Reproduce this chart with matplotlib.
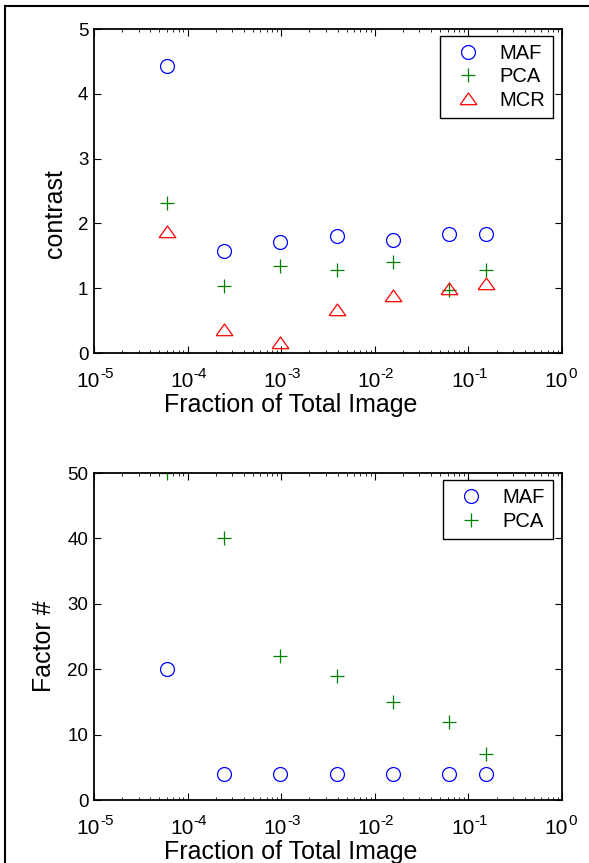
import matplotlib
matplotlib.use("Agg")
import matplotlib.pyplot as plt
import matplotlib.ticker as mticker
import matplotlib.transforms as mtransforms
from matplotlib.lines import Line2D

plt.rcParams['font.family'] = ['Liberation Sans', 'DejaVu Sans']

# fraction of total image (x) shared by both panels
frac = [6.0e-5, 2.44e-4, 9.77e-4, 3.9e-3, 1.56e-2, 6.25e-2, 0.153]
decades = [-5, -4, -3, -2, -1, 0]

# top panel: contrast
maf_contrast = [4.43, 1.58, 1.71, 1.80, 1.75, 1.83, 1.83]
pca_contrast = [2.32, 1.03, 1.34, 1.28, 1.41, 0.97, 1.28]
mcr_contrast = [1.86, 0.36, 0.16, 0.67, 0.88, 0.98, 1.06]

# bottom panel: factor number
maf_factor = [20, 4, 4, 4, 4, 4, 4]
pca_factor = [50, 40, 22, 19, 15, 12, 7]

blue = '#0000ff'
green = '#008000'
red = '#ff0000'
tri = [(-1, -0.62), (1, -0.62), (0, 0.78), (-1, -0.62)]

fig = plt.figure(figsize=(5.89, 8.63), dpi=100)
W, H = 589.0, 863.0

def axes_px(l, t, r, b):
    return fig.add_axes([l / W, 1 - b / H, (r - l) / W, (b - t) / H])

ax1 = axes_px(94, 29, 562, 353)
ax2 = axes_px(94, 473, 562, 800)

ax1.plot(frac, maf_contrast, 'o', ls='none', mfc='none', mec=blue, ms=10, mew=0.9, label='MAF')
ax1.plot(frac, pca_contrast, '+', ls='none', color=green, ms=10, mew=0.9, label='PCA')
ax1.plot(frac, mcr_contrast, ls='none', marker=tri, mfc='none', mec=red, ms=12, mew=0.9, label='MCR')

ax2.plot(frac, maf_factor, 'o', ls='none', mfc='none', mec=blue, ms=10, mew=0.9, label='MAF')
ax2.plot(frac, pca_factor, '+', ls='none', color=green, ms=10, mew=0.9, label='PCA')

ax1.set_ylim(0, 5)
ax1.set_yticks([0, 1, 2, 3, 4, 5])
ax2.set_ylim(0, 50)
ax2.set_yticks([0, 10, 20, 30, 40, 50])

for ax in (ax1, ax2):
    ax.set_xscale('log')
    ax.set_xlim(1e-5, 1)
    ax.set_xticks([10.0 ** e for e in decades])
    ax.xaxis.set_minor_locator(mticker.LogLocator(base=10, subs=range(2, 10)))
    ax.xaxis.set_major_formatter(mticker.NullFormatter())
    ax.xaxis.set_minor_formatter(mticker.NullFormatter())
    ax.tick_params(which='both', direction='in', top=True, right=True, labelsize=13.5)
    ax.tick_params(which='major', length=5, width=0.8)
    ax.tick_params(which='minor', length=2.5, width=0.6)
    ax.tick_params(axis='y', pad=4)
    for s in ax.spines.values():
        s.set_linewidth(1.3)

    # MATLAB-style 10^n labels: base and raised exponent
    xt = ax.get_xaxis_transform()
    for e in decades:
        tb = mtransforms.offset_copy(xt, fig=fig, x=6, y=-34, units='dots')
        ax.text(10.0 ** e, 0, '10', transform=tb, ha='right', va='baseline',
                fontsize=15, clip_on=False)
        te = mtransforms.offset_copy(xt, fig=fig, x=6, y=-25, units='dots')
        ax.text(10.0 ** e, 0, str(e), transform=te, ha='left', va='baseline',
                fontsize=11, clip_on=False)

    h = ax.get_position().height * H
    ax.set_xlabel('Fraction of Total Image', fontsize=18)
    ax.xaxis.set_label_coords(0.42, -40 / h)

ax1.set_ylabel('contrast', fontsize=18, y=0.43, labelpad=8)
ax2.set_ylabel('Factor #', fontsize=18, y=0.47, labelpad=8)

for ax in (ax1, ax2):
    leg = ax.legend(loc='upper right', bbox_to_anchor=(1 - 9 / 468.0, 1 - 7 / 324.0),
                    borderaxespad=0, fontsize=14.5, numpoints=1, fancybox=False,
                    edgecolor='black', framealpha=1, handlelength=2.0,
                    handletextpad=0.55, labelspacing=0.22, borderpad=0.4)
    leg.get_frame().set_linewidth(1.0)

# figure frame (left and top edges visible in the reference)
fig.add_artist(Line2D([4.5 / W, 4.5 / W], [0, 1 - 6 / H], color='black', lw=1.5))
fig.add_artist(Line2D([4.5 / W, 1], [1 - 6 / H, 1 - 6 / H], color='black', lw=1.5))

fig.savefig('out.png', dpi=100)
